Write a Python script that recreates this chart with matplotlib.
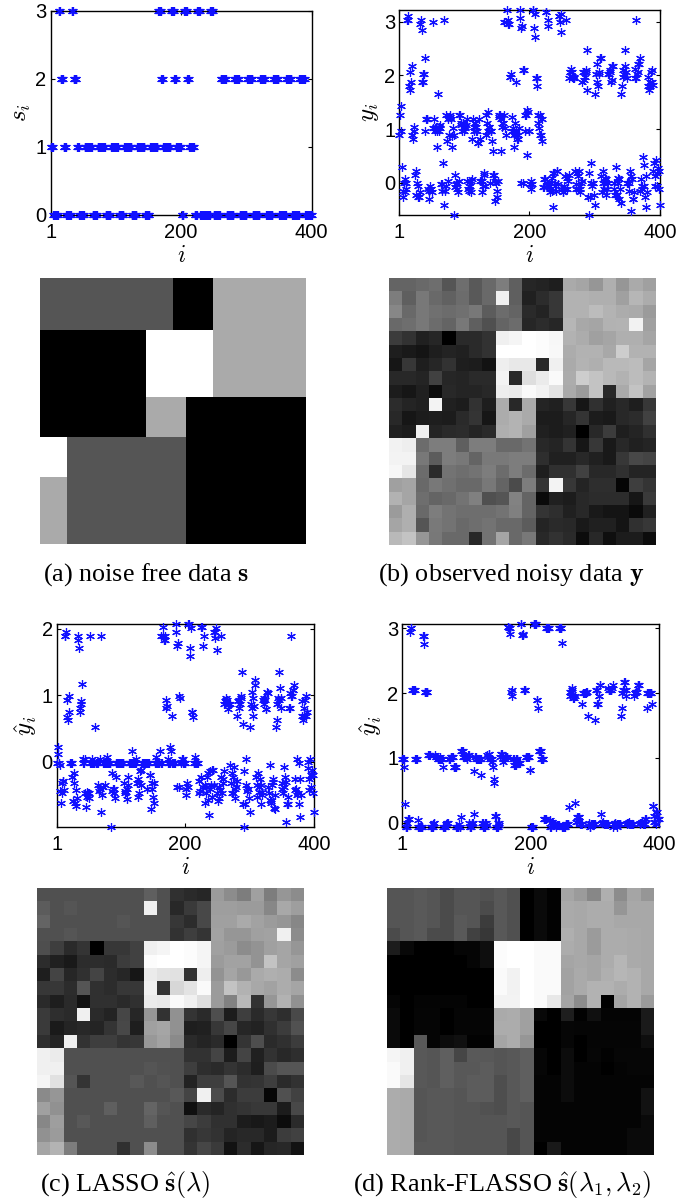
import numpy as np
import matplotlib
matplotlib.use('Agg')
import matplotlib.pyplot as plt

# 20x20 grids, grey level (0-255)
# the scatter plots are the same grids read column by column
s_grid = [
    [1,1,1,1,1,1,1,1,1,1,0,0,0,2,2,2,2,2,2,2],
    [1,1,1,1,1,1,1,1,1,1,0,0,0,2,2,2,2,2,2,2],
    [1,1,1,1,1,1,1,1,1,1,0,0,0,2,2,2,2,2,2,2],
    [1,1,1,1,1,1,1,1,1,1,0,0,0,2,2,2,2,2,2,2],
    [0,0,0,0,0,0,0,0,3,3,3,3,3,2,2,2,2,2,2,2],
    [0,0,0,0,0,0,0,0,3,3,3,3,3,2,2,2,2,2,2,2],
    [0,0,0,0,0,0,0,0,3,3,3,3,3,2,2,2,2,2,2,2],
    [0,0,0,0,0,0,0,0,3,3,3,3,3,2,2,2,2,2,2,2],
    [0,0,0,0,0,0,0,0,3,3,3,3,3,2,2,2,2,2,2,2],
    [0,0,0,0,0,0,0,0,2,2,2,0,0,0,0,0,0,0,0,0],
    [0,0,0,0,0,0,0,0,2,2,2,0,0,0,0,0,0,0,0,0],
    [0,0,0,0,0,0,0,0,2,2,2,0,0,0,0,0,0,0,0,0],
    [3,3,1,1,1,1,1,1,1,1,1,0,0,0,0,0,0,0,0,0],
    [3,3,1,1,1,1,1,1,1,1,1,0,0,0,0,0,0,0,0,0],
    [3,3,1,1,1,1,1,1,1,1,1,0,0,0,0,0,0,0,0,0],
    [2,2,1,1,1,1,1,1,1,1,1,0,0,0,0,0,0,0,0,0],
    [2,2,1,1,1,1,1,1,1,1,1,0,0,0,0,0,0,0,0,0],
    [2,2,1,1,1,1,1,1,1,1,1,0,0,0,0,0,0,0,0,0],
    [2,2,1,1,1,1,1,1,1,1,1,0,0,0,0,0,0,0,0,0],
    [2,2,1,1,1,1,1,1,1,1,1,0,0,0,0,0,0,0,0,0],
]
y_grey = [
    [100,100,105,110,85,110,90,105,125,95,38,35,30,170,165,150,175,150,170,160],
    [125,95,120,105,98,108,90,105,240,95,32,45,55,178,178,175,175,160,182,172],
    [135,105,120,112,108,112,120,92,108,100,42,35,55,178,178,188,180,172,170,155],
    [105,110,120,108,100,120,95,80,100,108,38,45,38,182,168,165,178,180,242,160],
    [60,50,32,38,0,42,42,50,240,245,255,252,247,178,172,160,165,175,175,165],
    [30,25,20,30,35,32,42,50,255,255,255,252,248,172,178,178,168,205,178,178],
    [22,55,30,38,50,30,28,18,238,232,232,40,240,170,180,175,185,185,188,165],
    [40,40,36,65,38,36,42,42,243,40,222,235,250,172,205,195,185,178,188,180],
    [28,22,32,12,40,36,36,40,238,235,250,242,228,170,155,195,40,170,195,162],
    [45,36,32,243,32,28,50,30,172,40,170,36,32,55,22,48,32,40,30,55],
    [40,22,28,30,28,42,52,22,172,180,170,28,28,38,52,28,25,40,45,65],
    [32,28,240,36,42,45,36,42,175,180,160,32,28,32,0,40,60,30,36,48],
    [242,238,108,125,125,95,125,125,105,105,115,40,36,52,22,55,25,40,32,36],
    [243,243,120,92,125,120,100,122,122,125,125,46,32,32,40,32,25,55,72,68],
    [247,230,108,42,115,110,115,125,108,125,108,30,48,48,65,40,40,48,36,36],
    [160,165,105,120,112,105,105,120,100,75,125,52,243,55,36,46,46,5,62,52],
    [178,165,110,100,105,115,128,80,85,130,100,10,32,28,40,45,45,45,22,58],
    [155,175,105,125,115,110,110,110,115,128,100,52,46,32,40,25,20,20,10,32],
    [165,175,85,122,115,105,110,115,105,105,92,36,42,40,25,32,32,20,48,55],
    [185,195,150,120,105,105,40,115,165,105,120,40,50,42,12,40,15,28,28,12],
]
lasso_grey = [
    [80,80,80,80,80,80,80,80,95,80,48,42,38,155,140,125,160,125,150,140],
    [92,80,85,80,80,80,80,80,240,80,40,58,72,158,158,155,155,135,168,158],
    [100,80,80,80,80,80,85,80,80,80,55,45,72,160,160,170,162,155,150,135],
    [80,80,85,80,80,80,80,80,80,80,50,62,52,162,150,150,160,162,240,140],
    [78,62,42,52,0,55,55,65,240,245,255,252,245,160,155,140,148,160,165,150],
    [45,32,25,45,45,42,60,65,252,255,255,252,245,155,162,162,148,195,165,160],
    [30,68,38,48,68,45,38,22,235,228,225,50,238,148,165,152,170,175,172,140],
    [55,55,44,85,48,44,55,55,240,50,215,228,250,155,195,178,168,162,172,165],
    [42,30,42,18,48,48,42,48,235,232,250,240,222,155,130,185,50,150,178,145],
    [58,46,42,240,42,35,70,38,150,50,145,52,42,78,28,62,42,55,46,74],
    [58,26,36,40,36,52,72,30,160,165,145,30,32,55,70,38,34,48,60,82],
    [46,36,240,50,62,62,52,55,152,162,138,42,36,42,0,52,78,42,48,60],
    [240,235,80,80,80,80,80,80,80,80,80,50,50,68,28,68,32,50,40,46],
    [240,240,80,80,80,80,80,80,85,82,80,62,46,42,52,44,30,75,85,85],
    [245,225,85,52,80,80,80,88,80,85,80,34,62,62,85,50,52,62,42,50],
    [138,150,80,80,80,80,80,80,80,80,88,68,240,75,45,60,60,6,80,65],
    [160,145,80,80,80,95,80,80,100,85,80,15,42,36,48,52,56,56,28,72],
    [135,158,80,88,80,80,80,80,95,80,80,70,60,48,48,28,24,28,12,42],
    [145,155,80,80,80,80,80,80,80,80,80,48,55,50,36,40,40,28,60,65],
    [165,180,125,80,80,80,48,80,140,80,80,52,70,58,18,44,22,38,40,18],
]
flasso_grey = [
    [85,85,90,85,75,85,85,82,88,80,0,10,2,165,155,135,175,140,165,150],
    [85,85,90,85,75,85,85,75,88,80,0,10,2,170,168,172,172,150,168,168],
    [85,85,90,85,75,90,85,60,88,80,0,10,2,170,168,172,172,168,168,168],
    [75,85,90,75,75,90,65,55,88,80,0,10,2,175,168,155,172,172,170,168],
    [28,8,0,0,0,5,5,14,252,255,255,250,250,172,168,155,172,172,170,168],
    [0,0,0,0,0,0,5,14,252,255,255,250,250,165,168,165,172,182,170,168],
    [0,0,0,0,0,0,0,0,250,242,255,250,250,162,170,165,175,182,178,168],
    [0,0,0,0,0,0,0,0,250,242,255,250,250,162,170,178,178,172,178,168],
    [5,0,4,4,4,4,0,0,243,243,255,250,232,165,140,178,0,165,178,155],
    [10,0,5,5,0,5,5,5,170,172,160,8,0,30,2,16,4,4,4,26],
    [10,0,5,5,0,5,5,5,172,172,160,0,0,6,5,5,5,5,5,26],
    [10,0,90,5,12,16,2,2,165,172,150,0,0,6,0,5,5,5,5,14],
    [245,240,88,85,95,70,90,88,85,88,95,6,0,12,0,6,2,6,6,6],
    [250,240,88,85,95,88,88,92,85,88,95,6,0,12,4,4,0,4,6,6],
    [250,230,88,85,95,88,92,92,78,88,95,4,4,12,4,4,4,4,4,4],
    [172,170,85,88,88,85,92,92,78,88,95,4,4,12,4,4,4,4,4,18],
    [172,170,85,88,88,85,85,82,78,88,85,4,4,4,4,4,4,4,4,18],
    [172,170,85,88,88,85,85,85,85,88,85,4,4,4,4,4,4,4,4,10],
    [172,170,85,88,88,85,85,85,85,72,85,4,4,4,4,4,4,4,10,10],
    [172,170,88,88,88,85,85,85,85,72,85,0,25,4,4,4,4,4,10,10],
]

# value range of each grid (black and white of the image)
y_range = (-0.6, 3.22)
lasso_range = (-0.98, 2.07)
flasso_range = (-0.06, 3.06)

xticks = [1, 200, 400]
captions = [r'(a) noise free data $\mathbf{s}$',
            r'(b) observed noisy data $\mathbf{y}$',
            r'(c) LASSO $\hat{\mathbf{s}}(\lambda)$',
            r'(d) Rank-FLASSO $\hat{\mathbf{s}}(\lambda_1,\lambda_2)$']

W, H = 697, 1204
plt.rcParams['font.family'] = ['Liberation Sans', 'DejaVu Sans']
plt.rcParams['mathtext.fontset'] = 'cm'

fig = plt.figure(figsize=(W / 100, H / 100), dpi=100)


def axes_px(x0, x1, y0, y1):
    return fig.add_axes([x0 / W, 1 - y1 / H, (x1 - x0) / W, (y1 - y0) / H])


def to_values(grey, rng):
    return rng[0] + np.array(grey, dtype=float) / 255 * (rng[1] - rng[0])


def scatter_panel(box, grid, ylim, yticks, ylabel):
    ax = axes_px(*box)
    vals = np.array(grid, dtype=float).flatten(order='F')
    ax.plot(np.arange(1, 401), vals, ls='none', marker=(6, 2, 0), ms=6.3,
            mew=0.85, color='#1010ff', clip_on=False, zorder=3)
    ax.set_xlim(1, 400)
    ax.set_ylim(*ylim)
    ax.set_xticks(xticks)
    ax.set_yticks(yticks)
    ax.tick_params(direction='in', top=True, right=True, length=3, width=0.8,
                   labelsize=14.5)
    ax.tick_params(axis='x', pad=6)
    ax.tick_params(axis='y', pad=3)
    for sp in ax.spines.values():
        sp.set_linewidth(1.0)
    ax.set_xlabel('$i$', fontsize=17, labelpad=2)
    ax.set_ylabel(ylabel, fontsize=18, labelpad=2)
    return ax


def image_panel(box, grid):
    ax = axes_px(*box)
    ax.imshow(np.array(grid, dtype=float), cmap='gray', interpolation='nearest',
              aspect='auto')
    ax.axis('off')


s_vals = np.array(s_grid, dtype=float)
y_vals = to_values(y_grey, y_range)
lasso_vals = to_values(lasso_grey, lasso_range)
flasso_vals = to_values(flasso_grey, flasso_range)

scatter_panel((50.7, 311.7, 11, 215), s_vals, (0, 3), [0, 1, 2, 3], '$s_i$')
scatter_panel((399.3, 660, 10, 215), y_vals, y_range, [0, 1, 2, 3], '$y_i$')
scatter_panel((57, 314, 624.3, 826.7), lasso_vals, lasso_range, [0, 1, 2], r'$\hat{y}_i$')
scatter_panel((402.3, 659, 624.3, 826.7), flasso_vals, flasso_range, [0, 1, 2, 3], r'$\hat{y}_i$')

image_panel((40, 306, 278, 544.5), s_vals)
image_panel((389, 656, 278, 545), y_vals)
image_panel((37, 303.7, 888, 1155), lasso_vals)
image_panel((387, 653.7, 888, 1155), flasso_vals)

cap_pos = [(146, 575), (511, 575), (125, 1185), (502, 1185)]
for (cx, cy), c in zip(cap_pos, captions):
    fig.text(cx / W, 1 - cy / H, c, family='Liberation Serif', fontsize=18.8,
             ha='center', va='center')

fig.savefig('out.png', dpi=100)
